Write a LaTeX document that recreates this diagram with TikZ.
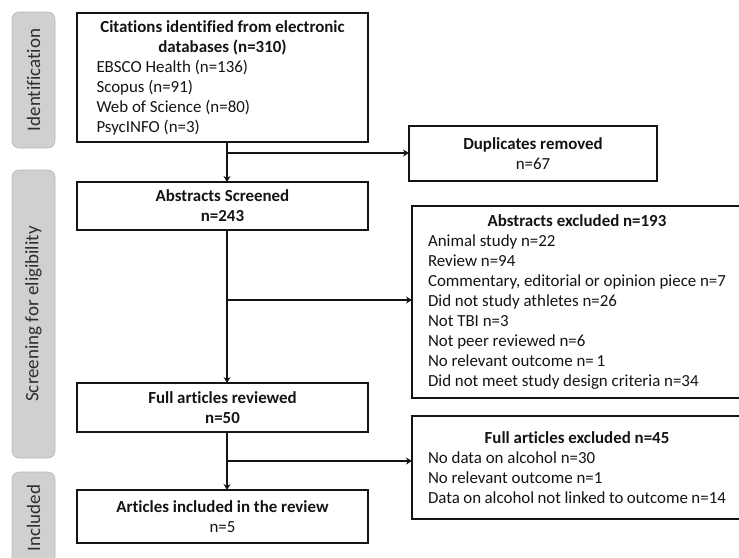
\documentclass[tikz,border=0pt]{standalone}
\usepackage{fontspec}
\setmainfont{Carlito}[Ligatures={NoCommon}]
\usetikzlibrary{arrows.meta}
\definecolor{lblfill}{RGB}{208,208,208}
\definecolor{lbldraw}{RGB}{185,185,185}
\definecolor{lbltext}{RGB}{45,45,45}
\definecolor{ink}{RGB}{20,20,20}
\begin{document}
\begin{tikzpicture}[x=1pt,y=-1pt,
  every node/.style={inner sep=0pt, outer sep=0pt, text=ink},
  txt/.style={font=\fontsize{16.9}{20}\selectfont},
  box/.style={draw=ink, line width=1.5pt, fill=white, txt, align=center},
  phase/.style={draw=lbldraw, fill=lblfill, rounded corners=7pt, line width=0.6pt,
    rotate=90, minimum height=43pt, text=lbltext, font=\fontsize{19}{22}\selectfont},
  conn/.style={draw=ink, line width=2.8pt},
  arr/.style={conn, -{Stealth[length=6pt,width=7pt]}}
]
\useasboundingbox (0,0) rectangle (739,557);
% phase labels
\node[phase, minimum width=136pt] (pid) at (33.5,80) {Identification};
\node[phase, minimum width=288pt] (pscr) at (33.5,314) {Screening for eligibility};
\node[phase, minimum width=92pt] (pinc) at (33.5,518) {Included};
% main boxes
\node[box, minimum width=291pt, minimum height=129pt] (b1) at (222.5,77.5)
 {\parbox{252pt}{\centering\bfseries Citations identified from electronic\\ databases (n=310)\par
  \raggedright\mdseries EBSCO Health (n=136)\\ Scopus (n=91)\\ Web of Science (n=80)\\ PsycINFO (n=3)}};
\node[box, minimum width=291pt, minimum height=48pt] (b2) at (222.5,206)
 {\textbf{Abstracts Screened}\\ \textbf{n=243}};
\node[box, minimum width=291pt, minimum height=49pt] (b3) at (222.5,407.5)
 {\textbf{Full articles reviewed}\\ \textbf{n=50}};
\node[box, minimum width=291pt, minimum height=53pt] (b4) at (222.5,516.5)
 {\textbf{Articles included in the review}\\ n=5};
% side boxes
\node[box, minimum width=248pt, minimum height=55pt] (d1) at (533,153.5)
 {\textbf{Duplicates removed}\\ n=67};
\node[box, minimum width=330pt, minimum height=192pt] (e1) at (577,302)
 {\parbox{298pt}{\centering\bfseries Abstracts excluded n=193\par
  \raggedright\mdseries Animal study n=22\\ Review n=94\\ Commentary, editorial or opinion piece n=7\\
  Did not study athletes n=26\\ Not TBI n=3\\ Not peer reviewed n=6\\ No relevant outcome n=\,1\\
  Did not meet study design criteria n=34}};
\node[box, minimum width=330pt, minimum height=103pt] (e2) at (577,467.5)
 {\parbox{298pt}{\centering\bfseries Full articles excluded n=45\par
  \raggedright\mdseries No data on alcohol n=30\\ No relevant outcome n=1\\
  Data on alcohol not linked to outcome n=14}};
% junctions
\coordinate (j1) at (227,153);
\coordinate (j2) at (227,300);
\coordinate (j3) at (227,461);
% connectors
\draw[arr] (j1 |- b1.south) -- (j1 |- b2.north);
\draw[arr] (j1) -- (j1 -| d1.west);
\draw[arr] (j2 |- b2.south) -- (j2 |- b3.north);
\draw[arr] (j2) -- (j2 -| e1.west);
\draw[arr] (j3 |- b3.south) -- (j3 |- b4.north);
\draw[arr] (j3) -- (j3 -| e2.west);
\end{tikzpicture}
\end{document}
